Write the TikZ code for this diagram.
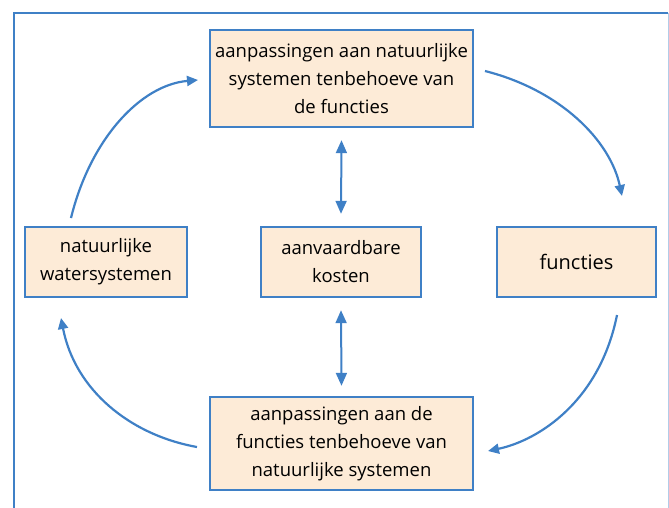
\documentclass[tikz,border=0pt]{standalone}
\usepackage{fontspec}
\setmainfont{Open Sans}
\usetikzlibrary{arrows.meta}
\definecolor{bblue}{HTML}{3F80C6}
\definecolor{peach}{HTML}{FDEBD7}
\tikzset{
  box/.style={draw=bblue, line width=2.4pt, fill=peach, align=center, font=\fontsize{18.5}{28}\selectfont, inner sep=0pt},
  conn/.style={draw=bblue, line width=2.2pt, -{Triangle[length=11pt,width=10pt]}},
  dconn/.style={draw=bblue, line width=2pt, {Triangle[length=13pt,width=11pt]}-{Triangle[length=13pt,width=11pt]}}
}
\begin{document}
\begin{tikzpicture}[x=1pt,y=-1pt]
\useasboundingbox (0,0) rectangle (669,507);
\draw[bblue, line width=2pt] (14,520) -- (14,12.5) -- (668,12.5);
\draw[bblue!40, line width=1pt] (668,12.5) -- (668,520);
\node[box, minimum width=263pt, minimum height=97pt] (top) at (341.5,78.5) {aanpassingen aan natuurlijke\\systemen tenbehoeve van\\de functies};
\node[box, minimum width=162pt, minimum height=70pt] (left) at (106,262) {natuurlijke\\watersystemen};
\node[box, minimum width=160pt, minimum height=70pt] (mid) at (341,262) {aanvaardbare\\kosten};
\node[box, minimum width=159pt, minimum height=70pt, font=\fontsize{20}{28}\selectfont] (right) at (576.5,262) {functies};
\node[box, minimum width=263pt, minimum height=93pt] (bot) at (341.5,443.5) {aanpassingen aan de\\functies tenbehoeve van\\natuurlijke systemen};
\coordinate (a1) at (71,218);
\coordinate (a2) at (198,80);
\coordinate (b1) at (485,71);
\coordinate (b2) at (622,196);
\coordinate (c1) at (617,315);
\coordinate (c2) at (488,451);
\coordinate (d1) at (197,447);
\coordinate (d2) at (61,318);
\draw[conn] (a1) .. controls (90,140) and (140,85) .. (a2);
\draw[conn] (b1) .. controls (560,90) and (610,140) .. (b2);
\draw[conn] (c1) .. controls (600,400) and (540,440) .. (c2);
\draw[conn] (d1) .. controls (130,435) and (75,390) .. (d2);
\draw[dconn] ([yshift=-12pt]top.south) -- ([yshift=12pt]mid.north);
\draw[dconn] ([yshift=-12pt]mid.south) -- ([yshift=10pt]bot.north);
\end{tikzpicture}
\end{document}
